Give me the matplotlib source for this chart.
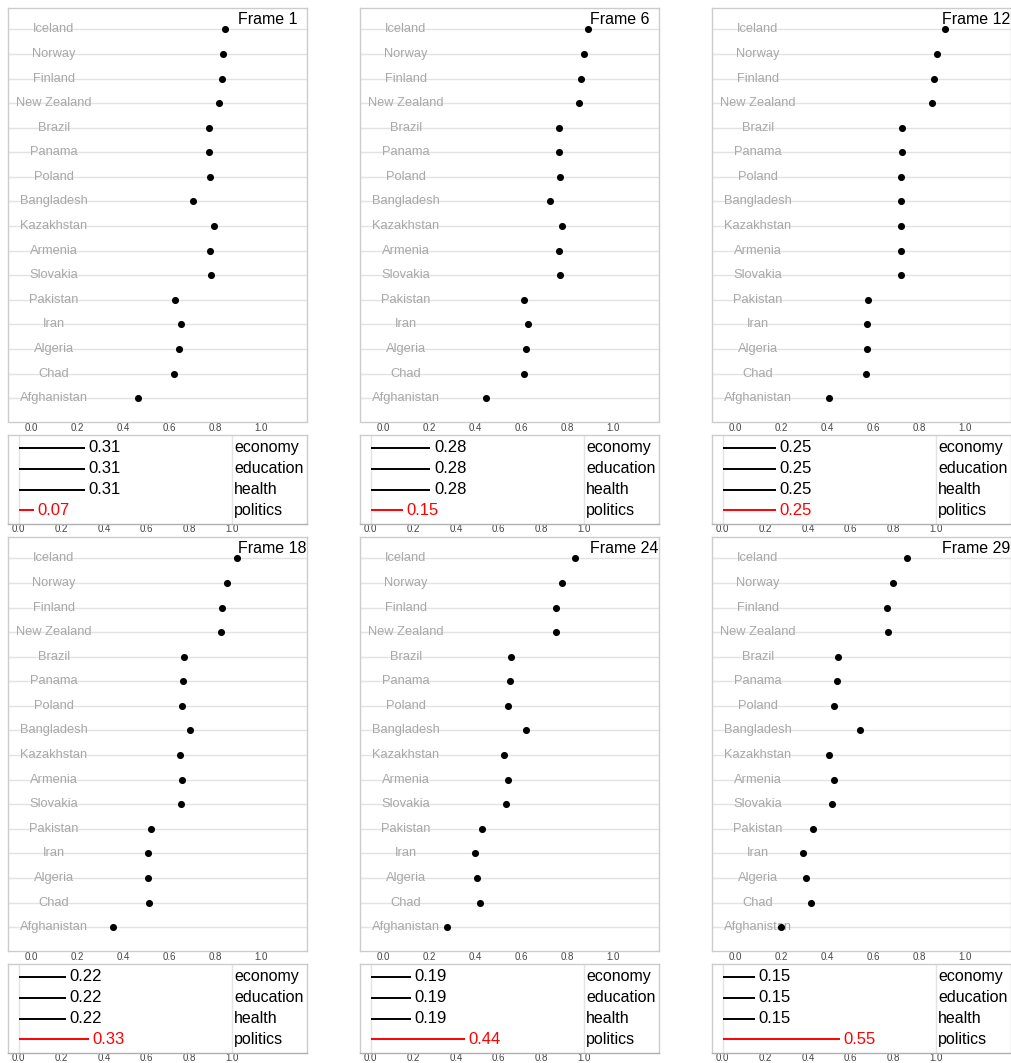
import numpy as np
import matplotlib
matplotlib.use("Agg")
from matplotlib import pyplot as plt

plt.rcParams['font.family'] = ['Liberation Sans', 'DejaVu Sans']

countries = ["Iceland", "Norway", "Finland", "New Zealand", "Brazil", "Panama",
             "Poland", "Bangladesh", "Kazakhstan", "Armenia", "Slovakia",
             "Pakistan", "Iran", "Algeria", "Chad", "Afghanistan"]
categories = ["economy", "education", "health", "politics"]
frames = [1, 6, 12, 18, 24, 29]

scores_f1 = [0.843, 0.835, 0.832, 0.817, 0.772, 0.772, 0.780, 0.703, 0.794, 0.778,
             0.784, 0.625, 0.652, 0.642, 0.622, 0.465]
scores_f6 = [0.891, 0.872, 0.862, 0.851, 0.767, 0.765, 0.768, 0.726, 0.777, 0.767,
             0.770, 0.614, 0.630, 0.623, 0.612, 0.446]
scores_f12 = [0.913, 0.878, 0.864, 0.857, 0.726, 0.725, 0.722, 0.722, 0.722, 0.722,
              0.720, 0.577, 0.575, 0.574, 0.571, 0.407]
scores_f18 = [0.896, 0.851, 0.830, 0.826, 0.664, 0.661, 0.655, 0.691, 0.648, 0.655,
              0.651, 0.520, 0.507, 0.509, 0.514, 0.355]
scores_f24 = [0.835, 0.778, 0.754, 0.754, 0.558, 0.554, 0.543, 0.622, 0.528, 0.545,
              0.535, 0.429, 0.401, 0.407, 0.423, 0.278]
scores_f29 = [0.749, 0.688, 0.659, 0.664, 0.449, 0.443, 0.429, 0.542, 0.409, 0.430,
              0.420, 0.338, 0.297, 0.307, 0.330, 0.201]

weights_f1 = [0.31, 0.31, 0.31, 0.07]
weights_f6 = [0.28, 0.28, 0.28, 0.15]
weights_f12 = [0.25, 0.25, 0.25, 0.25]
weights_f18 = [0.22, 0.22, 0.22, 0.33]
weights_f24 = [0.19, 0.19, 0.19, 0.44]
weights_f29 = [0.15, 0.15, 0.15, 0.55]

all_scores = [scores_f1, scores_f6, scores_f12, scores_f18, scores_f24, scores_f29]
all_weights = [weights_f1, weights_f6, weights_f12, weights_f18, weights_f24, weights_f29]

W, H = 1011, 1063
fig = plt.figure(figsize=(W / 100, H / 100), dpi=100)

SPINE = '#cccccc'
GRID = '#e3e3e3'
TICK_COLOR = '#444444'


def px_axes(left, top, width, height):
    return fig.add_axes([left / W, 1 - (top + height) / H, width / W, height / H])


def style(ax, xlim, pad=0.8):
    ax.set_xlim(*xlim)
    ax.set_xticks([0.0, 0.2, 0.4, 0.6, 0.8, 1.0])
    ax.set_xticklabels(["0.0", "0.2", "0.4", "0.6", "0.8", "1.0"])
    ax.tick_params(axis='both', length=0, labelsize=7, labelcolor=TICK_COLOR, pad=pad)
    for s in ax.spines.values():
        s.set_color(SPINE)
        s.set_linewidth(1.0)


def draw_frame(col, row, frame, scores, weights):
    left = 8 + col * 352
    top = 8 + row * 529

    # dot plot
    ax = px_axes(left, top, 299, 413.5)
    style(ax, (-0.1, 1.2))
    y = np.arange(len(countries))[::-1]
    ax.set_ylim(-0.95, len(countries) - 1 + 0.87)
    ax.set_yticks(y)
    ax.set_yticklabels([])
    ax.grid(axis='y', color=GRID, linewidth=1.0)
    ax.set_axisbelow(True)
    for yi, name in zip(y, countries):
        ax.text(0.1, yi, name, ha='center', va='center', fontsize=9.3,
                color='#a8a8a8', zorder=2)
    ax.scatter(scores, y, s=26, color='black', zorder=3, linewidths=0)
    ax.annotate(f"Frame {frame}", xy=(0.9, 1), xycoords=('data', 'axes fraction'),
                xytext=(0, -3), textcoords='offset points', ha='left', va='top',
                fontsize=11.5, color='black')

    # weights
    wx = px_axes(left, top + 427, 299, 89)
    style(wx, (-0.05, 1.35), pad=0.3)
    wx.spines['bottom'].set_color('#b0b0b0')
    wy = np.arange(len(categories))[::-1] + 1
    wx.set_ylim(0.35, 4.62)
    wx.set_yticks([])
    wx.axvline(0.0, color=GRID, linewidth=1.0, zorder=0)
    wx.axvline(1.0, color=GRID, linewidth=1.0, zorder=0)
    for yi, cat, w in zip(wy, categories, weights):
        c = 'red' if cat == 'politics' else 'black'
        wx.plot([0, w], [yi, yi], color=c, linewidth=1.4, solid_capstyle='butt')
        wx.annotate(f"{w:.2f}", xy=(w, yi), xytext=(2.5, 0), textcoords='offset points',
                    ha='left', va='center', fontsize=12, color=c)
        wx.annotate(cat, xy=(1.0, yi), xytext=(1.5, 0), textcoords='offset points',
                    ha='left', va='center', fontsize=11.5, color='black')


for i, (frame, scores, weights) in enumerate(zip(frames, all_scores, all_weights)):
    draw_frame(i % 3, i // 3, frame, scores, weights)

fig.savefig("out.png", dpi=100)
